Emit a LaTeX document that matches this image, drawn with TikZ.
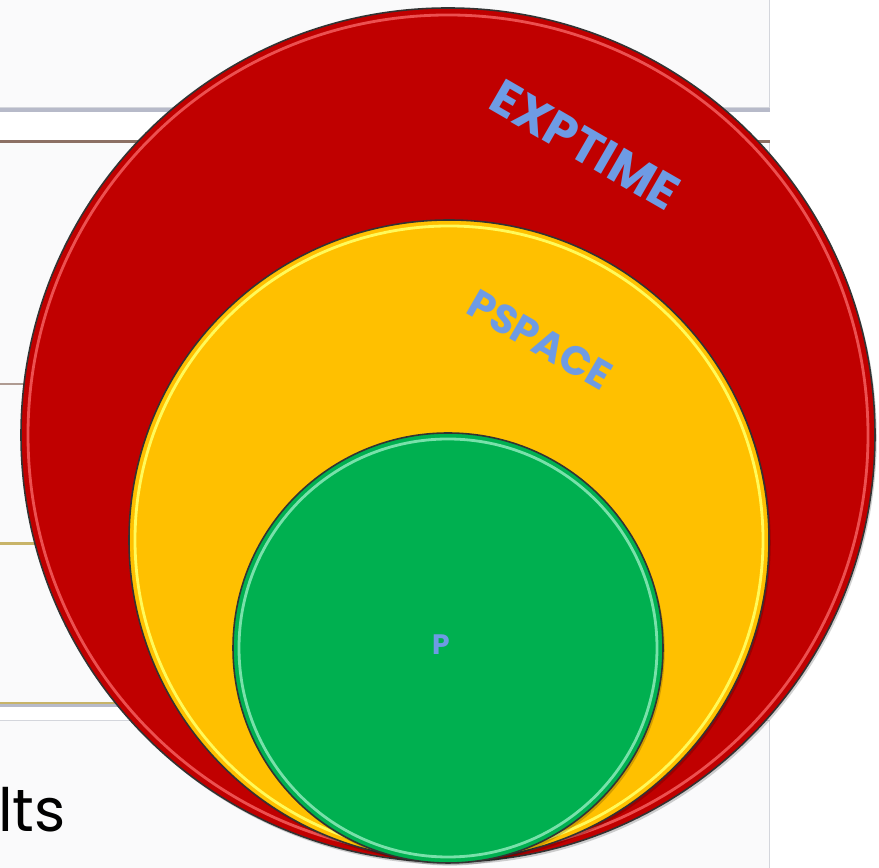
\documentclass[tikz,border=0pt]{standalone}
\usepackage{fontspec}
\setmainfont{Poppins}
\newfontfamily\cpxlabelfont{Poppins}
\usetikzlibrary{shadows}
\definecolor{CpxRed}{RGB}{192,0,0}
\definecolor{CpxRedRim}{RGB}{236,80,80}
\definecolor{CpxYellow}{RGB}{255,192,0}
\definecolor{CpxYellowRim}{RGB}{255,250,90}
\definecolor{CpxGreen}{RGB}{0,176,80}
\definecolor{CpxGreenRim}{RGB}{120,225,170}
\definecolor{CpxLabel}{RGB}{110,155,228}
\definecolor{CpxPaper}{RGB}{250,250,251}
\definecolor{CpxFrame}{RGB}{212,214,220}
\definecolor{CpxBrown}{RGB}{140,112,100}
\definecolor{CpxGold}{RGB}{200,180,105}
\definecolor{CpxShadow}{RGB}{135,140,165}
\tikzset{
  cpx/slide/.style={
    draw=CpxFrame,
    thick,
    fill=CpxPaper,
    drop shadow={shadow xshift=0.6pt, shadow yshift=-2.6pt, fill=CpxShadow, opacity=0.6}
  },
  cpx/edge/.style={line width=1.6pt},
  cpx/ring/.style={
    circle,
    draw=black!80,
    line width=0.9pt,
    inner sep=0pt,
    drop shadow={shadow xshift=1pt, shadow yshift=-1.5pt, fill=black, opacity=0.18}
  },
  cpx/rim/.style={line width=1.6pt},
  cpx/label/.style={text=CpxLabel, inner sep=0pt},
  cpx/caption/.style={font=\fontsize{34}{40}\selectfont, text=black, inner sep=0pt}
}
\begin{document}
\begin{tikzpicture}[x=1cm,y=1cm]
  \useasboundingbox (0,0) rectangle (17.58,17.36);
  \fill[white] (0,0) rectangle (17.58,17.36);
  % slides behind the rings
  \node[cpx/slide,minimum width=15.8cm,minimum height=2.3cm,anchor=south east] (slideA) at (15.4,15.2) {};
  \node[cpx/slide,minimum width=15.8cm,minimum height=4.82cm,anchor=south east] (slideB) at (15.4,9.68) {};
  \node[cpx/slide,minimum width=15.8cm,minimum height=3.2cm,anchor=south east] (slideC) at (15.4,6.46) {};
  \node[cpx/slide,minimum width=15.8cm,minimum height=3.16cm,anchor=south east] (slideD) at (15.4,3.30) {};
  \node[cpx/slide,minimum width=15.8cm,minimum height=3.6cm,anchor=north east] (slideE) at (15.4,2.96) {};
  \draw[cpx/edge,draw=CpxBrown] (slideB.north west) -- (slideB.north east);
  \draw[cpx/edge,draw=CpxBrown!70] (slideB.south west) -- (slideB.south east);
  \draw[cpx/edge,draw=CpxGold] (slideD.north west) -- (slideD.north east);
  \draw[cpx/edge,draw=CpxGold] (slideD.south west) -- (slideD.south east);
  \node[cpx/caption,anchor=base east] (results) at (1.32,0.72) {lts};
  % nested classes
  \node[cpx/ring,fill=CpxRed,minimum size=17.08cm] (exptime) at (8.96,8.66) {};
  \draw[cpx/rim,draw=CpxRedRim] (exptime.center) circle[radius=8.40];
  \node[cpx/ring,fill=CpxYellow,minimum size=12.8cm] (pspace) at (8.98,6.56) {};
  \draw[cpx/rim,draw=CpxYellowRim] (pspace.center) circle[radius=6.28];
  \node[cpx/ring,fill=CpxGreen,minimum size=8.6cm] (ptime) at (8.96,4.40) {};
  \draw[cpx/rim,draw=CpxGreenRim] (ptime.center) circle[radius=4.18];
  \node[cpx/label,font=\cpxlabelfont\bfseries\fontsize{28}{32}\selectfont,rotate=-30] (exptimelabel) at (11.70,14.46) {EXPTIME};
  \node[cpx/label,font=\cpxlabelfont\bfseries\fontsize{23}{27}\selectfont,rotate=-30] (pspacelabel) at (10.80,10.56) {PSPACE};
  \node[cpx/label,font=\cpxlabelfont\bfseries\fontsize{16}{19}\selectfont] (ptimelabel) at (8.82,4.46) {P};
\end{tikzpicture}
\end{document}
